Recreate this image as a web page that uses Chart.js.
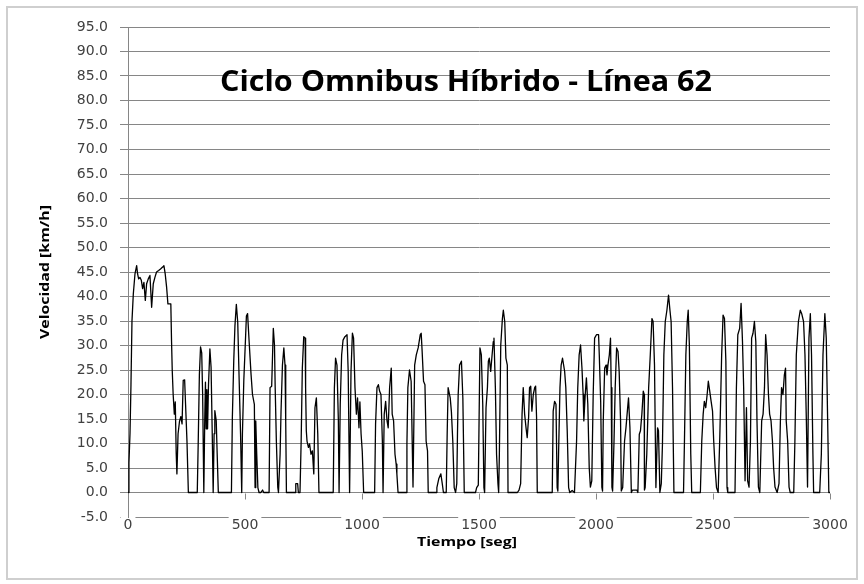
<!DOCTYPE html>
<html lang="es">
<head>
    <meta charset="UTF-8">
    <title>Ciclo Omnibus Híbrido - Línea 62</title>
    <script src="https://cdn.jsdelivr.net/npm/chart.js"></script>
    <style>
        body {
            margin: 0;
            background: #fff;
        }
        #grafico {
            display: block;
        }
    </style>
</head>
<body>
    <canvas id="grafico" width="864" height="584"></canvas>

    <script>
        // Datos: tiempo [seg] y velocidad [km/h]
        const tiempo = [
            0, 4, 8.5, 12.7, 17, 22.7, 29.8, 37, 41, 45.5, 51, 57, 62.5, 68, 74, 79.6, 86.7, 93.8, 101, 108,
            115, 122, 131, 139, 148, 153.5, 159, 165, 170.6, 179, 183, 186, 189, 193, 198, 202, 206, 209, 214, 220,
            226, 231, 236, 242, 246, 252, 258,
            296, 300, 305, 310, 315, 319, 324, 328, 331, 334, 337, 340, 344, 350, 355, 360, 364, 368, 371, 377,
            381, 386,
            442, 446, 452, 457, 463, 469, 475, 481, 486, 489, 495, 501, 506, 511, 518, 526, 532, 540, 543, 546,
            550, 555, 560, 568, 575, 580,
            603, 607, 614, 621, 626, 629, 634, 640, 643, 650, 654, 660, 666, 671, 674, 677,
            714, 717, 725, 728,
            735, 740, 745, 751, 757, 759, 762, 765, 771, 776, 782, 788, 794, 799, 805, 811, 816,
            877, 882, 887, 893, 899, 902, 907, 913, 919, 927, 936, 941, 947, 953, 959, 964, 970, 976, 981, 987,
            991, 996, 1001, 1007,
            1054, 1058, 1064, 1070, 1075, 1081, 1087, 1090, 1095, 1101, 1107, 1112, 1118, 1125, 1129, 1135, 1141,
            1146, 1149, 1154,
            1189, 1192, 1196, 1203, 1210, 1218, 1225, 1232, 1240, 1249, 1253, 1257, 1263, 1269, 1274, 1280, 1283,
            1317, 1320, 1328, 1337, 1343, 1348, 1360, 1364, 1368, 1377, 1382, 1388, 1394, 1400, 1405, 1408, 1411,
            1417, 1425, 1431, 1437,
            1485, 1490, 1497, 1504, 1510, 1516, 1521, 1524, 1530, 1536, 1540, 1544, 1550, 1556, 1561, 1564, 1570,
            1575, 1581, 1584, 1587, 1593, 1600, 1604, 1610, 1615, 1621, 1624,
            1664, 1671, 1678, 1684, 1689, 1695, 1701, 1706, 1712, 1716, 1721, 1726, 1732, 1738, 1742, 1746, 1749,
            1813, 1817, 1823, 1829, 1834, 1837, 1840, 1846, 1851, 1857, 1866, 1871, 1877, 1883, 1888, 1898, 1908,
            1917, 1922, 1928, 1934, 1940, 1945, 1948, 1954, 1959, 1965, 1971, 1976, 1982, 1988, 1994, 2002, 2011,
            2014, 2020, 2025, 2028, 2031, 2037, 2043, 2047, 2051, 2057, 2062, 2065, 2068, 2071, 2077, 2082, 2088,
            2094, 2099, 2105, 2108, 2114, 2122, 2128, 2134, 2139, 2145, 2151, 2156, 2175, 2179, 2185, 2190, 2196,
            2202, 2206, 2207, 2210, 2217, 2225, 2232, 2239, 2244, 2250, 2256, 2263, 2267, 2273, 2279, 2284, 2290,
            2296, 2303, 2310, 2316, 2321, 2327, 2333,
            2374, 2378, 2384, 2390, 2394, 2399, 2405, 2409,
            2446, 2452, 2458, 2463, 2469, 2475, 2480, 2486, 2492, 2498, 2503, 2509, 2515, 2522, 2529, 2537, 2543,
            2549, 2555, 2560, 2563,
            2594, 2600, 2606, 2614, 2620, 2626, 2631, 2637, 2643, 2648, 2654, 2660, 2665, 2671, 2677, 2683, 2688,
            2694, 2700, 2708, 2714, 2720, 2725, 2731, 2737, 2742, 2748, 2754, 2759, 2765, 2774, 2782, 2788, 2793,
            2799, 2805, 2810, 2813, 2819, 2825, 2830,
            2845, 2850, 2856, 2865, 2873, 2879, 2887, 2893, 2899, 2904, 2910, 2916, 2921, 2927, 2930, 2956, 2963,
            2970, 2978, 2984, 2990, 2995, 3000
        ];

        const velocidad = [
            0, 6, 12, 22, 35, 40.5, 44.6, 46.3, 44.6, 43.6, 43.9, 43.3, 41.6, 42.9, 39.2, 42.6, 43.6, 44.3, 37.8, 42.6,
            43.9, 45, 45.3, 45.6, 46, 46.3, 44.6, 41.9, 38.5, 38.5, 38.5, 31, 25, 20, 16, 18.5, 8, 3.8, 12, 14.5,
            15.5, 14, 22.9, 23, 18, 10.5, 0,
            0, 10, 24, 29.7, 28.5, 20, 0, 15, 22.5, 13, 21, 13, 22, 29.3, 25.6, 12, 0, 12, 16.7, 14.7,
            8, 0,
            0, 15.4, 27, 34, 38.4, 34.7, 23, 12, 0, 12, 23, 30, 36, 36.5, 30.5, 24, 20, 18, 1, 14.6,
            8, 1, 0, 0, 0.5, 0,
            0, 21.4, 21.7, 33.5, 30.1, 21.4, 10.5, 1.1, 0, 7.8, 16.6, 26, 29.5, 26, 14.6, 0,
            0, 1.8, 1.8, 0,
            0, 10.5, 25.4, 31.8, 31.5, 21.4, 12.6, 10.5, 9.2, 9.9, 7.8, 8.5, 3.8, 17.3, 19.3, 11.9, 0,
            0, 21.4, 27.4, 26, 14.6, 0, 18, 28.1, 31.1, 31.8, 32.2, 24.7, 0, 24.7, 32.5, 31.5, 21.4, 16, 19.3, 13.2,
            18.5, 12, 8.5, 0,
            0, 14, 21.4, 22, 20.7, 20, 10.5, 0, 16, 18.6, 14.6, 13.2, 21.4, 25.4, 16, 14.6, 7.8,
            5.8, 3.8, 0,
            0, 10, 21.4, 25, 22.7, 1.1, 26, 28.1, 29.5, 32.2, 32.5, 28.8, 22.7, 22, 10.5, 8.5, 0,
            0, 1, 2.8, 3.8, 1.8, 0, 0, 12, 21.4, 19.3, 16.5, 10.5, 1, 0, 1.8, 12, 20,
            26, 26.8, 19.3, 0,
            0, 1, 1.5, 29.5, 28.1, 18, 1, 0, 17.3, 21.4, 26.8, 27.4, 24.7, 28.1, 30.8, 31.5, 21.4,
            7.8, 1.8, 0, 7.8, 30.1, 35.5, 37.2, 34.9, 27.4, 26, 0,
            0, 0.5, 1.8, 16, 21.4, 16, 13.2, 11.2, 15.3, 21.4, 21.7, 16.6, 20, 21.4, 21.7, 15.3, 0,
            0, 16.6, 18.6, 18, 1, 0.3, 7.8, 21.4, 26, 27.4, 24.7, 21.4, 12.6, 1, 0, 0.4, 0,
            10.5, 21.4, 28.1, 30.1, 25.4, 20, 14.6, 20, 23.4, 18, 5.1, 1.1, 2.4, 20, 31.5, 32.2, 32.2,
            28.1, 18.6, 1.1, 0.3, 14.6, 25.4, 26, 24, 26, 28.1, 31.5, 21.4, 1.1, 0.3, 10.5, 21.4, 29.5,
            28.8, 24.7, 14.6, 0.3, 1, 10.5, 13.2, 16.6, 19.3, 13.2, 0, 0.5, 0.5, 0, 11.9, 12.6, 16,
            20.7, 20, 0.5, 1, 7.8, 21.4, 28.1, 35.5, 34.9, 26, 1, 13.2, 12.6, 0, 1.8, 9.9, 28.1,
            34.9, 37.2, 40.3, 37.2, 34.9, 21.4, 0,
            0, 10.5, 28.1, 34.9, 37.2, 30.1, 7.8, 0,
            0, 10.5, 16, 18.6, 17.3, 20, 22.7, 20.7, 18.6, 16.6, 10.5, 5, 1, 0, 11.2, 28.1, 36.2,
            35.5, 26.8, 1, 0,
            0, 21.4, 32.2, 33.5, 38.6, 30.8, 21.4, 2.4, 17.3, 2.4, 1.1, 10.5, 31.5, 32.5, 34.9, 30.8, 14.6,
            1.1, 0, 14.6, 16, 21.4, 32.2, 28.1, 20, 16, 14.6, 10.5, 5.1, 1.1, 0, 1.8, 14.6, 21.4,
            20, 24, 25.4, 14.6, 10.5, 1.1, 0,
            0, 10.5, 28.1, 34.9, 37.2, 36.5, 34.9, 28.1, 14.6, 1.1, 31.5, 36.5, 28.1, 7.8, 0, 0, 7.8,
            28.1, 36.5, 31.5, 14.6, 0, 0
        ];

        const ticksTiempo = [0, 500, 1000, 1500, 2000, 2500, 3000];
        const rangoVelocidad = [-5, 95];

        const titulo = 'Ciclo Omnibus Híbrido - Línea 62';
        const tituloX = 'Tiempo [seg]';
        const tituloY = 'Velocidad [km/h]';

        const puntos = tiempo.map((t, i) => ({ x: t, y: velocidad[i] }));

        const gris = '#868686';

        // texto centrado en (cx, cy), estirado a lo ancho indicado
        function textoAncho(ctx, texto, cx, cy, ancho) {
            const w = ctx.measureText(texto).width;
            ctx.save();
            ctx.translate(cx, cy);
            ctx.scale(ancho / w, 1);
            ctx.fillText(texto, 0, 0);
            ctx.restore();
        }

        const decoracion = {
            id: 'decoracion',
            beforeDraw(chart) {
                const ctx = chart.ctx;
                ctx.save();
                ctx.fillStyle = '#fff';
                ctx.fillRect(0, 0, chart.width, chart.height);
                ctx.restore();
            },
            afterDraw(chart) {
                const { ctx, scales: { x, y } } = chart;
                ctx.save();

                // marco exterior
                ctx.strokeStyle = '#cfcfcf';
                ctx.lineWidth = 2;
                ctx.strokeRect(7, 7, 850, 572);

                // marcas del eje horizontal, que cruza en 0
                const y0 = Math.round(y.getPixelForValue(0)) + 0.5;
                ctx.strokeStyle = gris;
                ctx.lineWidth = 1;
                ticksTiempo.forEach(t => {
                    const px = Math.round(x.getPixelForValue(t)) + 0.5;
                    ctx.beginPath();
                    ctx.moveTo(px, y0);
                    ctx.lineTo(px, y0 + 6);
                    ctx.stroke();
                });

                ctx.fillStyle = '#000';
                ctx.textAlign = 'center';
                ctx.textBaseline = 'alphabetic';

                // título
                ctx.font = 'bold 28px "Open Sans"';
                textoAncho(ctx, titulo, 466, 91, 492);

                // título eje X
                ctx.font = 'bold 13px "Open Sans"';
                textoAncho(ctx, tituloX, 467, 546, 100);

                // título eje Y
                ctx.translate(45, 272);
                ctx.rotate(-Math.PI / 2);
                ctx.textBaseline = 'middle';
                textoAncho(ctx, tituloY, 0, 0, 134);

                ctx.restore();
            }
        };

        new Chart(document.getElementById('grafico'), {
            type: 'line',
            data: {
                datasets: [{
                    data: puntos,
                    borderColor: '#000',
                    borderWidth: 1.3,
                    borderJoinStyle: 'round',
                    pointRadius: 0,
                    fill: false,
                    tension: 0
                }]
            },
            options: {
                responsive: false,
                animation: false,
                devicePixelRatio: 1,
                events: [],
                layout: {
                    padding: { left: 0, top: 27, right: 34, bottom: 0 }
                },
                plugins: {
                    legend: { display: false },
                    tooltip: { enabled: false }
                },
                scales: {
                    x: {
                        type: 'linear',
                        min: ticksTiempo[0],
                        max: ticksTiempo[ticksTiempo.length - 1],
                        afterFit: s => { s.height = 67; },
                        afterBuildTicks: s => { s.ticks = ticksTiempo.map(v => ({ value: v })); },
                        grid: { display: false, drawTicks: false },
                        border: { display: false },
                        ticks: {
                            padding: 0,
                            color: '#404040',
                            font: { family: '"DejaVu Sans"', size: 14 },
                            maxRotation: 0,
                            showLabelBackdrop: true,
                            backdropColor: '#fff',
                            backdropPadding: { top: 0, bottom: 0, left: 3, right: 3 },
                            callback: v => String(v)
                        }
                    },
                    y: {
                        min: rangoVelocidad[0],
                        max: rangoVelocidad[1],
                        afterFit: s => { s.width = 128; },
                        grid: {
                            color: gris,
                            lineWidth: 1,
                            drawTicks: true,
                            tickLength: 8,
                            tickColor: gris
                        },
                        border: { display: true, color: gris, width: 1 },
                        ticks: {
                            stepSize: 5,
                            padding: 12,
                            color: '#404040',
                            font: { family: '"DejaVu Sans"', size: 14 },
                            callback: v => v.toFixed(1)
                        }
                    }
                }
            },
            plugins: [decoracion]
        });
    </script>
</body>
</html>
